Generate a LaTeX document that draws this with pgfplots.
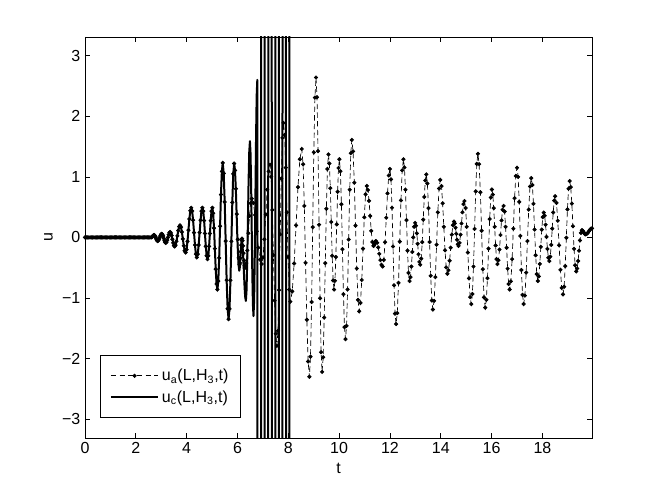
\documentclass[border=0pt]{standalone}
\usepackage{pgfplots}
\usepackage{pgfplotstable}
\pgfplotsset{compat=1.18}
\usepackage{fontspec}
\setmainfont{Liberation Sans}

\pgfplotstableread[row sep=\\]{
t u\\
0 0\\ 0.05 0\\ 0.1 0\\ 0.15 0\\ 0.2 0\\ 0.25 0\\ 0.3 0\\ 0.35 0\\ 0.4 0\\ 0.45 0\\
0.5 0\\ 0.55 0\\ 0.6 0\\ 0.65 0\\ 0.7 0\\ 0.75 0\\ 0.8 0\\ 0.85 0\\ 0.9 0\\ 0.95 0\\
1 0\\ 1.05 0\\ 1.1 0\\ 1.15 0\\ 1.2 0\\ 1.25 0\\ 1.3 0\\ 1.35 0\\ 1.4 0\\ 1.45 0\\
1.5 0\\ 1.55 0\\ 1.6 0\\ 1.65 0\\ 1.7 0\\ 1.75 0\\ 1.8 0\\ 1.85 0\\ 1.9 0\\ 1.95 0\\
2 0\\ 2.05 0\\ 2.1 0\\ 2.15 0\\ 2.2 0\\ 2.25 0\\ 2.3 0\\ 2.35 0\\ 2.4 0\\ 2.45 0\\
2.5 0\\ 2.55 0\\
2.60 0\\ 2.62 0.003\\ 2.64 0.01\\ 2.66 0.02\\ 2.68 0.03\\ 2.70 0.037\\
2.72 0.04\\ 2.743 0.033\\ 2.767 0.015\\ 2.79 -0.01\\ 2.813 -0.035\\ 2.837 -0.053\\
2.86 -0.06\\ 2.887 -0.052\\ 2.913 -0.03\\ 2.94 0\\ 2.967 0.03\\ 2.993 0.052\\
3.02 0.06\\ 3.047 0.05\\ 3.073 0.023\\ 3.10 -0.015\\ 3.127 -0.053\\ 3.153 -0.08\\
3.18 -0.09\\ 3.208 -0.078\\ 3.237 -0.045\\ 3.265 0\\ 3.293 0.045\\ 3.322 0.078\\
3.35 0.09\\ 3.38 0.074\\ 3.41 0.03\\ 3.44 -0.03\\ 3.47 -0.09\\ 3.50 -0.134\\
3.53 -0.15\\ 3.565 -0.127\\ 3.60 -0.063\\ 3.635 0.025\\ 3.67 0.113\\ 3.705 0.177\\
3.74 0.20\\ 3.777 0.17\\ 3.813 0.088\\ 3.85 -0.025\\ 3.887 -0.138\\ 3.923 -0.22\\
3.96 -0.25\\ 3.997 -0.20\\ 4.033 -0.065\\ 4.07 0.12\\ 4.107 0.305\\ 4.143 0.44\\
4.18 0.49\\ 4.217 0.435\\ 4.253 0.285\\ 4.29 0.08\\ 4.327 -0.125\\ 4.363 -0.275\\
4.40 -0.33\\ 4.437 -0.275\\ 4.473 -0.125\\ 4.51 0.08\\ 4.547 0.285\\ 4.583 0.435\\
4.62 0.49\\ 4.653 0.433\\ 4.687 0.278\\ 4.72 0.065\\ 4.753 -0.148\\ 4.787 -0.303\\
4.82 -0.36\\ 4.852 -0.303\\ 4.883 -0.148\\ 4.915 0.065\\ 4.947 0.278\\ 4.978 0.433\\
5.01 0.49\\ 5.043 0.40\\ 5.077 0.153\\ 5.11 -0.185\\ 5.143 -0.523\\ 5.177 -0.77\\
5.21 -0.86\\ 5.245 -0.72\\ 5.28 -0.338\\ 5.315 0.185\\ 5.35 0.708\\ 5.385 1.09\\
5.42 1.23\\ 5.458 1.057\\ 5.497 0.585\\ 5.535 -0.06\\ 5.573 -0.705\\ 5.612 -1.177\\
5.65 -1.35\\ 5.687 -1.178\\ 5.723 -0.708\\ 5.76 -0.065\\ 5.797 0.578\\ 5.833 1.048\\
5.87 1.22\\ 5.905 1.108\\ 5.94 0.803\\ 5.975 0.385\\ 6.01 -0.033\\ 6.045 -0.338\\
6.08 -0.45\\ 6.097 -0.421\\ 6.113 -0.343\\ 6.13 -0.235\\ 6.147 -0.128\\ 6.163 -0.049\\
6.18 -0.02\\ 6.20 -0.052\\ 6.22 -0.14\\ 6.24 -0.26\\ 6.26 -0.38\\ 6.28 -0.468\\
6.30 -0.50\\ 6.343 -0.424\\ 6.387 -0.215\\ 6.43 0.07\\ 6.473 0.355\\ 6.517 0.564\\
6.56 0.64\\ 6.625 0.568\\ 6.69 0.37\\ 6.755 0.10\\ 6.82 -0.17\\ 6.885 -0.368\\
6.95 -0.44\\ 7.005 -0.33\\ 7.06 -0.03\\ 7.115 0.38\\ 7.17 0.79\\ 7.225 1.09\\
7.28 1.20\\ 7.325 1.00\\ 7.37 0.453\\ 7.415 -0.295\\ 7.46 -1.043\\ 7.505 -1.59\\
7.55 -1.79\\ 7.593 -1.543\\ 7.637 -0.87\\ 7.68 0.05\\ 7.723 0.97\\ 7.767 1.643\\
7.81 1.89\\ 7.855 1.692\\ 7.90 1.153\\ 7.945 0.415\\ 7.99 -0.323\\ 8.035 -0.862\\
8.08 -1.06\\ 8.155 -0.891\\ 8.23 -0.43\\ 8.305 0.20\\ 8.38 0.83\\ 8.455 1.291\\
8.53 1.46\\ 8.58 1.208\\ 8.63 0.52\\ 8.68 -0.42\\ 8.73 -1.36\\ 8.78 -2.048\\
8.83 -2.30\\ 8.873 -1.969\\ 8.917 -1.065\\ 8.96 0.17\\ 9.003 1.405\\ 9.047 2.309\\
9.09 2.64\\ 9.13 2.314\\ 9.17 1.425\\ 9.21 0.21\\ 9.25 -1.005\\ 9.29 -1.894\\
9.33 -2.22\\ 9.372 -1.979\\ 9.413 -1.323\\ 9.455 -0.425\\ 9.497 0.473\\ 9.538 1.129\\
9.58 1.37\\ 9.617 1.221\\ 9.653 0.813\\ 9.69 0.255\\ 9.727 -0.303\\ 9.763 -0.711\\
9.80 -0.86\\ 9.835 -0.716\\ 9.87 -0.323\\ 9.905 0.215\\ 9.94 0.753\\ 9.975 1.146\\
10.01 1.29\\ 10.05 1.091\\ 10.09 0.548\\ 10.13 -0.195\\ 10.17 -0.938\\ 10.21 -1.481\\
10.25 -1.68\\ 10.292 -1.46\\ 10.333 -0.858\\ 10.375 -0.035\\ 10.417 0.788\\ 10.458 1.39\\
10.50 1.61\\ 10.548 1.42\\ 10.597 0.903\\ 10.645 0.195\\ 10.693 -0.513\\ 10.742 -1.03\\
10.79 -1.22\\ 10.84 -1.081\\ 10.89 -0.703\\ 10.94 -0.185\\ 10.99 0.333\\ 11.04 0.711\\
11.09 0.85\\ 11.133 0.784\\ 11.177 0.603\\ 11.22 0.355\\ 11.263 0.108\\ 11.307 -0.074\\
11.35 -0.14\\ 11.367 -0.135\\ 11.383 -0.12\\ 11.40 -0.10\\ 11.417 -0.08\\ 11.433 -0.065\\
11.45 -0.06\\ 11.493 -0.088\\ 11.537 -0.165\\ 11.58 -0.27\\ 11.623 -0.375\\ 11.667 -0.452\\
11.71 -0.48\\ 11.758 -0.372\\ 11.807 -0.078\\ 11.855 0.325\\ 11.903 0.728\\ 11.952 1.022\\
12.00 1.13\\ 12.04 0.958\\ 12.08 0.49\\ 12.12 -0.15\\ 12.16 -0.79\\ 12.20 -1.258\\
12.24 -1.43\\ 12.288 -1.248\\ 12.337 -0.75\\ 12.385 -0.07\\ 12.433 0.61\\ 12.482 1.108\\
12.53 1.29\\ 12.57 1.155\\ 12.61 0.788\\ 12.65 0.285\\ 12.69 -0.218\\ 12.73 -0.585\\
12.77 -0.72\\ 12.807 -0.656\\ 12.843 -0.48\\ 12.88 -0.24\\ 12.917 0.0\\ 12.953 0.176\\
12.99 0.24\\ 13.023 0.194\\ 13.057 0.068\\ 13.09 -0.105\\ 13.123 -0.278\\ 13.157 -0.404\\
13.19 -0.45\\ 13.23 -0.35\\ 13.27 -0.078\\ 13.31 0.295\\ 13.35 0.668\\ 13.39 0.94\\
13.43 1.04\\ 13.473 0.891\\ 13.517 0.483\\ 13.56 -0.075\\ 13.603 -0.633\\ 13.647 -1.041\\
13.69 -1.19\\ 13.738 -1.047\\ 13.787 -0.655\\ 13.835 -0.12\\ 13.883 0.415\\ 13.932 0.807\\
13.98 0.95\\ 14.027 0.846\\ 14.073 0.563\\ 14.12 0.175\\ 14.167 -0.213\\ 14.213 -0.496\\
14.26 -0.60\\ 14.303 -0.542\\ 14.347 -0.385\\ 14.39 -0.17\\ 14.433 0.045\\ 14.477 0.202\\
14.52 0.26\\ 14.55 0.233\\ 14.58 0.16\\ 14.61 0.06\\ 14.64 -0.04\\ 14.67 -0.113\\
14.70 -0.14\\ 14.738 -0.09\\ 14.777 0.045\\ 14.815 0.23\\ 14.853 0.415\\ 14.892 0.55\\
14.93 0.60\\ 14.975 0.486\\ 15.02 0.175\\ 15.065 -0.25\\ 15.11 -0.675\\ 15.155 -0.986\\
15.20 -1.10\\ 15.243 -0.934\\ 15.287 -0.48\\ 15.33 0.14\\ 15.373 0.76\\ 15.417 1.214\\
15.46 1.38\\ 15.508 1.21\\ 15.557 0.745\\ 15.605 0.11\\ 15.653 -0.525\\ 15.702 -0.99\\
15.75 -1.16\\ 15.793 -1.029\\ 15.837 -0.673\\ 15.88 -0.185\\ 15.923 0.303\\ 15.967 0.659\\
16.01 0.79\\ 16.047 0.708\\ 16.083 0.483\\ 16.12 0.175\\ 16.157 -0.133\\ 16.193 -0.358\\
16.23 -0.44\\ 16.27 -0.376\\ 16.31 -0.20\\ 16.35 0.04\\ 16.39 0.28\\ 16.43 0.456\\
16.47 0.52\\ 16.51 0.428\\ 16.55 0.175\\ 16.59 -0.17\\ 16.63 -0.515\\ 16.67 -0.768\\
16.71 -0.86\\ 16.758 -0.725\\ 16.807 -0.358\\ 16.855 0.145\\ 16.903 0.648\\ 16.952 1.015\\
17.00 1.15\\ 17.043 0.999\\ 17.087 0.588\\ 17.13 0.025\\ 17.173 -0.538\\ 17.217 -0.949\\
17.26 -1.10\\ 17.31 -0.961\\ 17.36 -0.58\\ 17.41 -0.06\\ 17.46 0.46\\ 17.51 0.841\\
17.56 0.98\\ 17.603 0.866\\ 17.647 0.555\\ 17.69 0.13\\ 17.733 -0.295\\ 17.777 -0.606\\
17.82 -0.72\\ 17.858 -0.644\\ 17.897 -0.438\\ 17.935 -0.155\\ 17.973 0.128\\ 18.012 0.334\\
18.05 0.41\\ 18.087 0.356\\ 18.123 0.21\\ 18.16 0.01\\ 18.197 -0.19\\ 18.233 -0.336\\
18.27 -0.39\\ 18.308 -0.318\\ 18.347 -0.123\\ 18.385 0.145\\ 18.423 0.413\\ 18.462 0.608\\
18.50 0.68\\ 18.552 0.571\\ 18.603 0.275\\ 18.655 -0.13\\ 18.707 -0.535\\ 18.758 -0.831\\
18.81 -0.94\\ 18.853 -0.815\\ 18.897 -0.473\\ 18.94 -0.005\\ 18.983 0.463\\ 19.027 0.805\\
19.07 0.93\\ 19.113 0.83\\ 19.157 0.558\\ 19.20 0.185\\ 19.243 -0.188\\ 19.287 -0.46\\
19.33 -0.56\\ 19.367 -0.514\\ 19.403 -0.39\\ 19.44 -0.22\\ 19.477 -0.05\\ 19.513 0.074\\
19.55 0.12\\ 19.575 0.115\\ 19.60 0.103\\ 19.625 0.085\\ 19.65 0.068\\ 19.675 0.055\\
19.70 0.05\\ 19.742 0.057\\ 19.783 0.075\\ 19.825 0.10\\ 19.867 0.125\\ 19.908 0.143\\
19.95 0.15\\
}\uatab

\pgfplotstableread[row sep=\\]{
t u\\
5.87 1.22\\ 5.903 1.101\\ 5.937 0.778\\ 5.97 0.335\\ 6.003 -0.108\\ 6.037 -0.431\\
6.07 -0.55\\ 6.087 -0.517\\ 6.103 -0.425\\ 6.12 -0.30\\ 6.137 -0.175\\ 6.153 -0.083\\
6.17 -0.05\\ 6.197 -0.117\\ 6.223 -0.30\\ 6.25 -0.55\\ 6.277 -0.80\\ 6.303 -0.983\\
6.33 -1.05\\ 6.357 -0.873\\ 6.383 -0.39\\ 6.41 0.27\\ 6.437 0.93\\ 6.463 1.413\\
6.49 1.59\\ 6.513 1.396\\ 6.537 0.868\\ 6.56 0.145\\ 6.583 -0.578\\ 6.607 -1.106\\
6.63 -1.30\\ 6.655 -1.039\\ 6.68 -0.325\\ 6.705 0.65\\ 6.73 1.625\\ 6.755 2.339\\
6.78 2.60\\
6.86 -100\\ 7.00 100\\ 7.14 -100\\ 7.28 100\\ 7.42 -100\\ 7.56 100\\
7.70 -100\\ 7.84 100\\ 7.98 -100\\ 8.10 100\\
}\uctab

\begin{document}
\begin{tikzpicture}
\begin{axis}[
  name=ax,
  scale only axis,
  width=380.25pt, height=300.75pt,
  xmin=0, xmax=19.95,
  ymin=-3.31, ymax=3.31,
  xtick={0,2,...,18},
  ytick={-3,-2,-1,0,1,2,3},
  yticklabels={−3,−2,−1,0,1,2,3},
  tick align=inside,
  major tick length=3.5pt,
  minor tick num=0,
  axis line style={black, line width=0.5pt},
  every tick/.style={black, line width=0.5pt},
  tick label style={font=\fontsize{12}{14}\selectfont},
  /pgf/number format/assume math mode=true,
  label style={font=\fontsize{12}{14}\selectfont},
  xlabel={t},
  ylabel={u},
  xlabel style={yshift=0pt},
  ylabel style={yshift=0pt},
  legend style={at={(0.03,0.05)}, anchor=south west, draw=black, line width=0.5pt,
    font=\fontsize{12}{14}\selectfont, inner xsep=7pt, inner ysep=8pt, row sep=2pt,
    cells={anchor=west}},
  legend image code/.code={\draw[mark repeat=2,mark phase=2,#1] plot coordinates {(0cm,0cm) (0.625cm,0cm) (1.25cm,0cm)};},
]
\addlegendimage{black, line width=0.5pt, dash pattern=on 4pt off 2.5pt, mark=*, mark size=1.3pt, mark options={solid}}
\addlegendentry{u\textsubscript{a}(L,H\textsubscript{3},t)}
\addlegendimage{black, line width=1.5pt}
\addlegendentry{u\textsubscript{c}(L,H\textsubscript{3},t)}

\addplot[black, line width=1.5pt, line join=round, forget plot, restrict x to domain=0:5.87] table[x=t,y=u] {\uatab};
\addplot[black, line width=1.5pt, line join=round, forget plot] table[x=t,y=u] {\uctab};
\addplot[black, line width=0.5pt, dash pattern=on 4pt off 2.5pt, mark=*, mark size=1.3pt, mark options={solid}, forget plot] table[x=t,y=u] {\uatab};
\end{axis}
\path ([xshift=-63.75pt,yshift=-40.5pt]ax.south west) rectangle ([xshift=46.5pt,yshift=27.75pt]ax.north east);
\end{tikzpicture}
\end{document}
